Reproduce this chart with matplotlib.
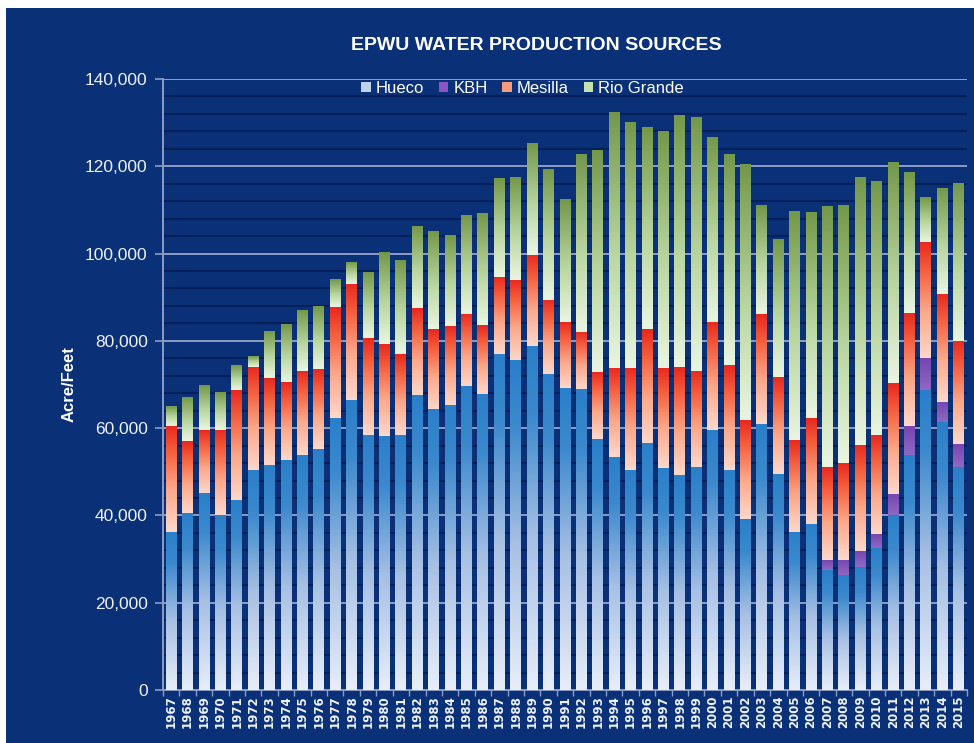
import numpy as np
import matplotlib
matplotlib.use("Agg")
import matplotlib.pyplot as plt
from matplotlib.colors import LinearSegmentedColormap
from matplotlib.patches import Patch
from matplotlib.ticker import FuncFormatter, MultipleLocator

plt.rcParams['font.family'] = ['Liberation Sans Narrow', 'Liberation Sans', 'DejaVu Sans']

years = list(range(1967, 2016))

hueco = [36100, 40600, 45200, 40000, 43500, 50300, 51600, 52800, 53900, 55300,
         62400, 66400, 58400, 58200, 58500, 67700, 64500, 65400, 69600, 67900,
         76900, 75600, 78800, 72300, 69200, 68900, 57400, 53300, 50300, 56700,
         50800, 49300, 51000, 59500, 50500, 39200, 60900, 49600, 36300, 38100,
         27600, 26400, 28200, 32600, 40000, 53800, 68700, 61300, 51000]

kbh = [0] * 40 + [2100, 3500, 3700, 3200, 5000, 6600, 7300, 4600, 5300]

mesilla = [24300, 16400, 14300, 19500, 25200, 23700, 19900, 17700, 19300, 18200,
           25400, 26700, 22200, 21000, 18400, 19900, 18200, 18000, 16600, 15800,
           17800, 18400, 20900, 17100, 15100, 13200, 15500, 20500, 23500, 26000,
           23000, 24700, 22200, 24800, 23900, 22600, 25200, 22100, 21000, 24300,
           21300, 22200, 24300, 22600, 25300, 26000, 26700, 24900, 23700]

rio_grande = [4400, 9900, 10200, 8500, 5700, 2400, 10700, 13200, 13900, 14400,
              6400, 5000, 15100, 21000, 21500, 18700, 22300, 20700, 22500, 25600,
              22500, 23400, 25600, 29800, 28100, 40600, 50700, 58500, 56200, 46200,
              54100, 57700, 58000, 42200, 48300, 58600, 24900, 31500, 52300, 47200,
              59700, 59100, 61200, 58000, 50500, 32300, 10300, 24100, 36000]

series_names = ["Hueco", "KBH", "Mesilla", "Rio Grande"]

BG = '#0a3178'

cmaps = {
    "Hueco": LinearSegmentedColormap.from_list(
        "h", [(0, '#e8eef9'), (0.45, '#a6bfe4'), (0.8, '#3c89cd'), (1, '#2a7fc9')]),
    "KBH": LinearSegmentedColormap.from_list(
        "k", [(0, '#8f68c4'), (1, '#7446b0')]),
    "Mesilla": LinearSegmentedColormap.from_list(
        "m", [(0, '#fdd8cc'), (0.4, '#fba88a'), (0.75, '#f4603e'), (1, '#e8281e')]),
    "Rio Grande": LinearSegmentedColormap.from_list(
        "r", [(0, '#eaf5e2'), (0.45, '#b9d6a0'), (1, '#74984a')]),
}
legend_colors = {"Hueco": '#bcd3f0', "KBH": '#8a55c4', "Mesilla": '#fb9a78', "Rio Grande": '#c6e0ae'}

fig = plt.figure(figsize=(9.74, 7.43), dpi=100, facecolor='white')
bgax = fig.add_axes([6 / 974, 0, 1 - 6 / 974, 1 - 8 / 743])
bgax.set_facecolor(BG)
bgax.set_xticks([]); bgax.set_yticks([])
for s in bgax.spines.values():
    s.set_visible(False)
bgax.set_zorder(-10)

ax = fig.add_axes([163 / 974, 53 / 743, (967 - 163) / 974, (690 - 79) / 743])
ax.set_facecolor(BG)

x = np.arange(len(years))
width = 0.67
bottom = np.zeros(len(years))
grad = np.linspace(0, 1, 256).reshape(-1, 1)
for name, vals in zip(series_names, [hueco, kbh, mesilla, rio_grande]):
    vals = np.array(vals, dtype=float)
    bars = ax.bar(x, vals, width, bottom=bottom, color='none', edgecolor='none', zorder=3)
    for p in bars.patches:
        h = p.get_height()
        if h <= 0:
            continue
        x0, y0, w = p.get_x(), p.get_y(), p.get_width()
        ax.imshow(grad, cmap=cmaps[name], origin='lower', aspect='auto',
                  extent=[x0, x0 + w, y0, y0 + h], interpolation='bicubic', zorder=3)
    bottom += vals

ax.set_xlim(-0.4, 48.35)
ax.set_ylim(0, 140000)

ax.yaxis.set_major_locator(MultipleLocator(20000))
ax.yaxis.set_minor_locator(MultipleLocator(4000))
ax.grid(which='major', axis='y', color='#8d9cc4', linewidth=1.4, zorder=1)
ax.grid(which='minor', axis='y', color='#041f5a', linewidth=1.6, zorder=0.5)
ax.set_axisbelow(True)

ax.yaxis.set_major_formatter(FuncFormatter(lambda v, p: f"{int(v):,}"))
ax.tick_params(axis='y', which='major', colors='#8d9cc4', labelcolor='#eef2fa',
               labelsize=12.5, length=6, width=1.2, pad=5)
ax.tick_params(axis='y', which='minor', length=0)

ax.set_xticks(x)
ax.set_xticklabels([str(y) for y in years], rotation=90, fontsize=8.5,
                   fontweight='bold', color='#eef2fa', family=['DejaVu Sans'])
ax.set_xticks(np.arange(-0.5, 48.6, 1), minor=True)
ax.tick_params(axis='x', which='major', length=0, pad=4)
ax.tick_params(axis='x', which='minor', length=4, color='#8d9cc4', width=1)

for side in ['top', 'right']:
    ax.spines[side].set_visible(False)
ax.spines['left'].set_color('#8d9cc4')
ax.spines['bottom'].set_color('#8d9cc4')
ax.spines['left'].set_linewidth(1.4)
ax.spines['bottom'].set_linewidth(1.4)

ax.set_ylabel("Acre/Feet", color='white', fontsize=12, fontweight='bold', labelpad=6)

fig.text(536 / 974, 1 - 46 / 743, "EPWU WATER PRODUCTION SOURCES", color='white',
         fontsize=14, fontweight='bold', ha='center', va='center')

handles = [Patch(facecolor=legend_colors[n], edgecolor='none', label=n) for n in series_names]
leg = ax.legend(handles=handles, loc='center', bbox_to_anchor=(0.447, 0.985), ncol=4,
                frameon=False, fontsize=12, handlelength=0.55, handleheight=0.55,
                handletextpad=0.3, columnspacing=0.9, labelcolor='white')

fig.savefig("out.png", dpi=100, facecolor='white')
